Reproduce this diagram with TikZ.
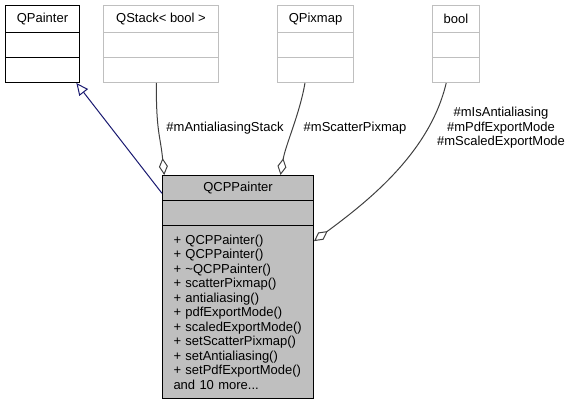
\documentclass[tikz,border=0pt]{standalone}
\usepackage{fontspec}
\setmainfont{Liberation Sans}
\usepackage{tikz}
\usetikzlibrary{arrows.meta}
\definecolor{edgegray}{HTML}{404040}
\definecolor{boxgray}{HTML}{BFBFBF}
\definecolor{inhblue}{HTML}{191970}
\begin{document}
\begin{tikzpicture}[x=1pt,y=-1pt,
  cls/.style={draw=#1,line width=1pt,inner sep=0pt,anchor=north west,
    font=\fontsize{13}{14.5}\selectfont},
  lbl/.style={inner sep=0pt,font=\fontsize{13}{14.5}\selectfont},
  inherit/.style={draw=inhblue,line width=1pt,-{Triangle[open,length=12pt,width=11pt]}},
  agg/.style={draw=edgegray,line width=1pt,-{Diamond[open,length=17pt,width=9pt]}}]
        \useasboundingbox (0,0) rectangle (573,404);

        \node[cls=black,minimum width=74pt,minimum height=27pt] (QPainter) at (5,5) {QPainter};
        \node[cls=black,minimum width=74pt,minimum height=25pt] (QPainterA) at (5,32) {};
        \node[cls=black,minimum width=74pt,minimum height=25pt] (QPainterB) at (5,57) {};

        \node[cls=boxgray,minimum width=115pt,minimum height=27pt] (QStack) at (103,5) {QStack< bool >};
        \node[cls=boxgray,minimum width=115pt,minimum height=25pt] (QStackA) at (103,32) {};
        \node[cls=boxgray,minimum width=115pt,minimum height=25pt] (QStackB) at (103,57) {};

        \node[cls=boxgray,minimum width=76pt,minimum height=27pt] (QPixmap) at (277,5) {QPixmap};
        \node[cls=boxgray,minimum width=76pt,minimum height=25pt] (QPixmapA) at (277,32) {};
        \node[cls=boxgray,minimum width=76pt,minimum height=25pt] (QPixmapB) at (277,57) {};

        \node[cls=boxgray,minimum width=47pt,minimum height=27pt] (bool) at (432,5) {bool};
        \node[cls=boxgray,minimum width=47pt,minimum height=25pt] (boolA) at (432,32) {};
        \node[cls=boxgray,minimum width=47pt,minimum height=25pt] (boolB) at (432,57) {};

        \node[cls=black,fill=boxgray,minimum width=151pt,minimum height=25pt] (QCPPainter) at (162,175) {QCPPainter};
        \node[cls=black,fill=boxgray,minimum width=151pt,minimum height=25pt] (QCPPainterA) at (162,200) {};
        \node[cls=black,fill=boxgray,minimum width=151pt,minimum height=173pt,
          text width=129pt,inner xsep=11pt,align=left] (QCPPainterM) at (162,225)
          {+ QCPPainter()\\+ QCPPainter()\\+ \textasciitilde QCPPainter()\\+ scatterPixmap()\\+ antialiasing()\\+ pdfExportMode()\\+ scaledExportMode()\\+ setScatterPixmap()\\+ setAntialiasing()\\+ setPdfExportMode()\\and 10 more...};

        \node[lbl] (lStack) at (225,128) {\#mAntialiasingStack};
        \node[lbl] (lPixmap) at (355,128) {\#mScatterPixmap};
        \node[lbl,align=center] (lBool) at (501,128) {\#mIsAntialiasing\\\#mPdfExportMode\\\#mScaledExportMode};

        \draw[inherit] (QCPPainter.184) -- (QPainterB.-21);
        \draw[agg] (QStackB.-110) .. controls +(0,50) and +(-4,-40) .. (QCPPainter.170);
        \draw[agg] (QPixmapB.-129) .. controls +(-5,30) and +(5,-30) .. (QCPPainter.17);
        \draw[agg] (boolB.-127) .. controls +(-16,68) and +(57,-42) .. (QCPPainterM.43);
\end{tikzpicture}
\end{document}
